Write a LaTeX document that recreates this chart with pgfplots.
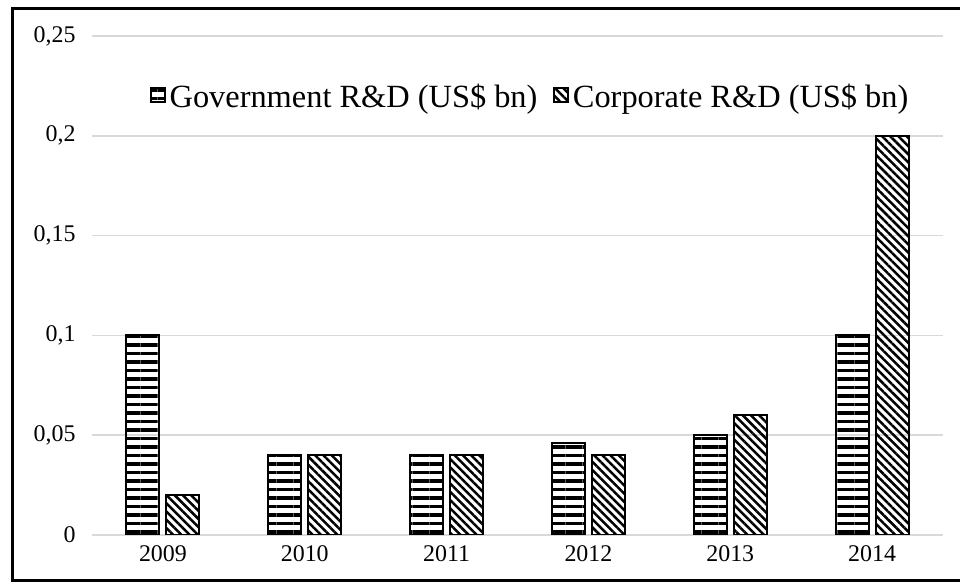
\documentclass[border=0pt]{standalone}
\usepackage{fontspec}
\setmainfont{Liberation Serif}
\usepackage{pgfplots}
\pgfplotsset{compat=1.18}
\usetikzlibrary{patterns.meta}
\definecolor{gridgray}{HTML}{D9D9D9}

\begin{document}
\begin{tikzpicture}[x=1bp,y=1bp]
\useasboundingbox (0,0) rectangle (960,583);
\draw[line width=3bp] (960,2.7) -- (12,2.7) -- (12,574.5) -- (960,574.5);
\begin{axis}[
  at={(92bp,48bp)}, anchor=south west,
  scale only axis, width=851bp, height=499bp,
  xmin=-0.5, xmax=5.5, ymin=0, ymax=0.25,
  ybar=7bp, bar width=33bp,
  axis line style={draw=none},
  tick style={draw=none}, major tick length=0pt,
  ytick={0,0.05,0.1,0.15,0.2,0.25},
  ymajorgrids, grid style={gridgray, line width=1.5bp},
  xtick=data, xticklabels={2009,2010,2011,2012,2013,2014},
  /pgf/number format/assume math mode=true,
  /pgf/number format/.cd, use comma, fixed, precision=2, /pgfplots/.cd,
  ticklabel style={font=\fontsize{24}{28}\selectfont},
  yticklabel style={xshift=-13bp},
  xticklabel style={yshift=-7bp},
  legend style={at={(0.515,0.878)}, anchor=center, draw=none, fill=none,
    legend columns=2, font=\fontsize{32.5}{38}\selectfont,
    /tikz/every odd column/.append style={column sep=2bp},
    /tikz/every even column/.append style={column sep=14bp}},
  legend image code/.code={\draw[#1, line width=1.5bp] (0bp,-5bp) rectangle (14bp,9bp);},
]
\addplot[draw=black, line width=2bp, pattern={Lines[angle=0, distance=8.5bp, line width=3.5bp]}]
  coordinates {(0,0.1) (1,0.04) (2,0.04) (3,0.046) (4,0.05) (5,0.1)};
\addlegendentry{Government R\&D (US\$ bn)}
\addplot[draw=black, line width=2bp, pattern={Lines[angle=-45, distance=5.8bp, line width=2.5bp]}]
  coordinates {(0,0.02) (1,0.04) (2,0.04) (3,0.04) (4,0.06) (5,0.2)};
\addlegendentry{Corporate R\&D (US\$ bn)}
\end{axis}
\end{tikzpicture}
\end{document}
